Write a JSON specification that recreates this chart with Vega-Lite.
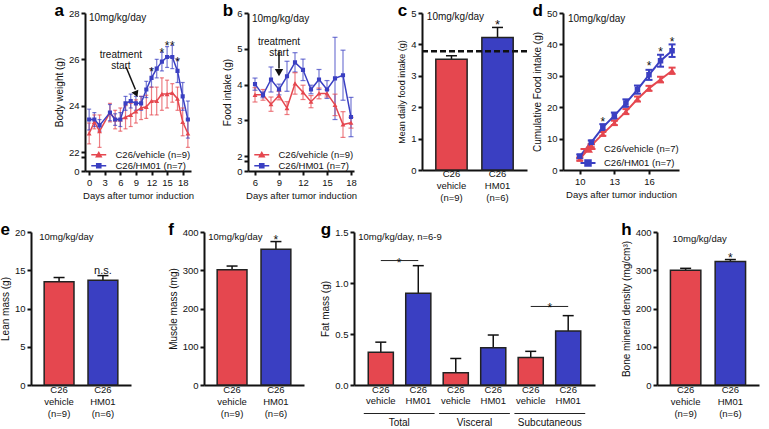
{
"$schema": "https://vega.github.io/schema/vega-lite/v6.json",
"padding": {"left": 0, "top": 2, "right": 4, "bottom": 0},
"config": {
  "font": "Liberation Sans",
  "view": {"stroke": null},
  "axis": {"domainColor": "#111", "domainWidth": 2, "tickColor": "#111", "tickWidth": 2, "tickSize": 4, "labelFontSize": 9.5, "labelColor": "#111", "titleColor": "#111", "titleFontSize": 10, "titleFontWeight": "normal", "grid": false, "labelPadding": 2, "titlePadding": 4, "labelOverlap": false, "labelFlush": false, "labelBound": false},
  "legend": {"title": null, "orient": "bottom-right", "offset": 0, "labelFontSize": 9.5, "labelColor": "#111", "rowPadding": 0, "padding": 0},
  "title": {"fontSize": 17, "fontWeight": "bold", "anchor": "start", "frame": "bounds", "offset": -12, "color": "#000"},
  "text": {"color": "#111"}
},
"datasets": {
  "bw": [
    {"day":0,"grp":"C26/vehicle (n=9)","mean":22.8,"lo":22.35,"hi":23.25},
    {"day":1,"grp":"C26/vehicle (n=9)","mean":23.3,"lo":23.0,"hi":23.6},
    {"day":2,"grp":"C26/vehicle (n=9)","mean":22.9,"lo":22.2,"hi":23.6},
    {"day":4,"grp":"C26/vehicle (n=9)","mean":23.7,"lo":23.3,"hi":24.1},
    {"day":5,"grp":"C26/vehicle (n=9)","mean":23.4,"lo":23.0,"hi":23.8},
    {"day":6,"grp":"C26/vehicle (n=9)","mean":23.4,"lo":22.9,"hi":23.9},
    {"day":7,"grp":"C26/vehicle (n=9)","mean":23.5,"lo":23.0,"hi":24.0},
    {"day":8,"grp":"C26/vehicle (n=9)","mean":23.6,"lo":23.1,"hi":24.1},
    {"day":9,"grp":"C26/vehicle (n=9)","mean":23.75,"lo":23.25,"hi":24.25},
    {"day":10,"grp":"C26/vehicle (n=9)","mean":23.9,"lo":23.4,"hi":24.4},
    {"day":11,"grp":"C26/vehicle (n=9)","mean":23.95,"lo":23.45,"hi":24.45},
    {"day":12,"grp":"C26/vehicle (n=9)","mean":24.2,"lo":23.6,"hi":24.8},
    {"day":13,"grp":"C26/vehicle (n=9)","mean":24.2,"lo":23.6,"hi":24.8},
    {"day":14,"grp":"C26/vehicle (n=9)","mean":24.5,"lo":23.8,"hi":25.2},
    {"day":15,"grp":"C26/vehicle (n=9)","mean":24.5,"lo":23.9,"hi":25.1},
    {"day":16,"grp":"C26/vehicle (n=9)","mean":24.55,"lo":24.15,"hi":24.95},
    {"day":17,"grp":"C26/vehicle (n=9)","mean":24.3,"lo":23.8,"hi":24.8},
    {"day":18,"grp":"C26/vehicle (n=9)","mean":23.3,"lo":22.7,"hi":23.9},
    {"day":19,"grp":"C26/vehicle (n=9)","mean":22.8,"lo":22.2,"hi":23.4},
    {"day":0,"grp":"C26/HM01 (n=7)","mean":23.4,"lo":22.95,"hi":23.85},
    {"day":1,"grp":"C26/HM01 (n=7)","mean":23.4,"lo":23.1,"hi":23.7},
    {"day":2,"grp":"C26/HM01 (n=7)","mean":23.15,"lo":22.9,"hi":23.4},
    {"day":4,"grp":"C26/HM01 (n=7)","mean":23.7,"lo":23.35,"hi":24.05},
    {"day":5,"grp":"C26/HM01 (n=7)","mean":23.4,"lo":23.15,"hi":23.65},
    {"day":6,"grp":"C26/HM01 (n=7)","mean":23.4,"lo":23.1,"hi":23.7},
    {"day":7,"grp":"C26/HM01 (n=7)","mean":24.1,"lo":23.8,"hi":24.4},
    {"day":8,"grp":"C26/HM01 (n=7)","mean":24.2,"lo":23.9,"hi":24.5},
    {"day":9,"grp":"C26/HM01 (n=7)","mean":24.1,"lo":23.8,"hi":24.4},
    {"day":10,"grp":"C26/HM01 (n=7)","mean":24.1,"lo":23.8,"hi":24.4},
    {"day":11,"grp":"C26/HM01 (n=7)","mean":24.7,"lo":24.35,"hi":25.05},
    {"day":12,"grp":"C26/HM01 (n=7)","mean":25.2,"lo":24.8,"hi":25.6},
    {"day":13,"grp":"C26/HM01 (n=7)","mean":25.6,"lo":25.2,"hi":26.0},
    {"day":14,"grp":"C26/HM01 (n=7)","mean":25.9,"lo":25.5,"hi":26.3},
    {"day":15,"grp":"C26/HM01 (n=7)","mean":26.1,"lo":25.65,"hi":26.55},
    {"day":16,"grp":"C26/HM01 (n=7)","mean":26.1,"lo":25.6,"hi":26.6},
    {"day":17,"grp":"C26/HM01 (n=7)","mean":25.5,"lo":25.0,"hi":26.0},
    {"day":18,"grp":"C26/HM01 (n=7)","mean":24.4,"lo":23.8,"hi":25.0},
    {"day":19,"grp":"C26/HM01 (n=7)","mean":23.4,"lo":22.6,"hi":24.2}
  ],
  "fi": [
    {"day":6,"grp":"C26/vehicle (n=9)","mean":3.71,"lo":3.51,"hi":3.91},
    {"day":7,"grp":"C26/vehicle (n=9)","mean":3.71,"lo":3.56,"hi":3.86},
    {"day":8,"grp":"C26/vehicle (n=9)","mean":3.45,"lo":3.25,"hi":3.65},
    {"day":9,"grp":"C26/vehicle (n=9)","mean":3.69,"lo":3.57,"hi":3.81},
    {"day":10,"grp":"C26/vehicle (n=9)","mean":3.34,"lo":3.16,"hi":3.52},
    {"day":11,"grp":"C26/vehicle (n=9)","mean":4.03,"lo":3.73,"hi":4.33},
    {"day":12,"grp":"C26/vehicle (n=9)","mean":3.78,"lo":3.58,"hi":3.98},
    {"day":13,"grp":"C26/vehicle (n=9)","mean":3.52,"lo":3.35,"hi":3.69},
    {"day":14,"grp":"C26/vehicle (n=9)","mean":3.75,"lo":3.6,"hi":3.9},
    {"day":15,"grp":"C26/vehicle (n=9)","mean":3.75,"lo":3.65,"hi":3.85},
    {"day":16,"grp":"C26/vehicle (n=9)","mean":3.43,"lo":3.13,"hi":3.73},
    {"day":17,"grp":"C26/vehicle (n=9)","mean":2.88,"lo":2.52,"hi":3.24},
    {"day":18,"grp":"C26/vehicle (n=9)","mean":2.93,"lo":2.78,"hi":3.08},
    {"day":6,"grp":"C26/HM01 (n=7)","mean":4.01,"lo":3.84,"hi":4.18},
    {"day":7,"grp":"C26/HM01 (n=7)","mean":3.71,"lo":3.63,"hi":3.79},
    {"day":8,"grp":"C26/HM01 (n=7)","mean":4.14,"lo":3.79,"hi":4.49},
    {"day":9,"grp":"C26/HM01 (n=7)","mean":3.86,"lo":3.71,"hi":4.01},
    {"day":10,"grp":"C26/HM01 (n=7)","mean":4.23,"lo":3.81,"hi":4.65},
    {"day":11,"grp":"C26/HM01 (n=7)","mean":4.62,"lo":4.35,"hi":4.89},
    {"day":12,"grp":"C26/HM01 (n=7)","mean":4.41,"lo":4.11,"hi":4.71},
    {"day":13,"grp":"C26/HM01 (n=7)","mean":3.86,"lo":3.74,"hi":3.98},
    {"day":14,"grp":"C26/HM01 (n=7)","mean":4.14,"lo":3.86,"hi":4.42},
    {"day":15,"grp":"C26/HM01 (n=7)","mean":3.86,"lo":3.61,"hi":4.11},
    {"day":16,"grp":"C26/HM01 (n=7)","mean":4.17,"lo":3.02,"hi":5.32},
    {"day":17,"grp":"C26/HM01 (n=7)","mean":4.26,"lo":3.56,"hi":4.96},
    {"day":18,"grp":"C26/HM01 (n=7)","mean":3.09,"lo":2.54,"hi":3.64}
  ],
  "cfi": [
    {"day":10,"grp":"C26/vehicle (n=7)","mean":3.5,"lo":3.0,"hi":4.0},
    {"day":11,"grp":"C26/vehicle (n=7)","mean":7.75,"lo":7.25,"hi":8.25},
    {"day":12,"grp":"C26/vehicle (n=7)","mean":11.5,"lo":10.9,"hi":12.1},
    {"day":13,"grp":"C26/vehicle (n=7)","mean":15.0,"lo":14.3,"hi":15.7},
    {"day":14,"grp":"C26/vehicle (n=7)","mean":18.6,"lo":17.8,"hi":19.4},
    {"day":15,"grp":"C26/vehicle (n=7)","mean":22.6,"lo":21.8,"hi":23.4},
    {"day":16,"grp":"C26/vehicle (n=7)","mean":26.0,"lo":25.2,"hi":26.8},
    {"day":17,"grp":"C26/vehicle (n=7)","mean":28.8,"lo":27.9,"hi":29.7},
    {"day":18,"grp":"C26/vehicle (n=7)","mean":31.6,"lo":30.6,"hi":32.6},
    {"day":10,"grp":"C26/HM01 (n=7)","mean":4.35,"lo":3.75,"hi":4.95},
    {"day":11,"grp":"C26/HM01 (n=7)","mean":8.8,"lo":8.2,"hi":9.4},
    {"day":12,"grp":"C26/HM01 (n=7)","mean":13.6,"lo":12.6,"hi":14.6},
    {"day":13,"grp":"C26/HM01 (n=7)","mean":17.3,"lo":16.3,"hi":18.3},
    {"day":14,"grp":"C26/HM01 (n=7)","mean":21.3,"lo":20.1,"hi":22.5},
    {"day":15,"grp":"C26/HM01 (n=7)","mean":25.6,"lo":24.3,"hi":26.9},
    {"day":16,"grp":"C26/HM01 (n=7)","mean":30.3,"lo":28.7,"hi":31.9},
    {"day":17,"grp":"C26/HM01 (n=7)","mean":34.8,"lo":32.9,"hi":36.7},
    {"day":18,"grp":"C26/HM01 (n=7)","mean":38.0,"lo":36.0,"hi":40.0}
  ],
  "c": [
    {"lab":"C26|vehicle|(n=9)","g":"vehicle","mean":3.53,"upper":3.64,"sig":""},
    {"lab":"C26|HM01|(n=6)","g":"HM01","mean":4.22,"upper":4.54,"sig":"*"}
  ],
  "e": [
    {"lab":"C26|vehicle|(n=9)","g":"vehicle","mean":13.5,"upper":14.05,"sig":""},
    {"lab":"C26|HM01|(n=6)","g":"HM01","mean":13.7,"upper":14.3,"sig":"n.s."}
  ],
  "f": [
    {"lab":"C26|vehicle|(n=9)","g":"vehicle","mean":301,"upper":311,"sig":""},
    {"lab":"C26|HM01|(n=6)","g":"HM01","mean":355,"upper":375,"sig":"*"}
  ],
  "h": [
    {"lab":"C26|vehicle|(n=9)","g":"vehicle","mean":300,"upper":305,"sig":""},
    {"lab":"C26|HM01|(n=6)","g":"HM01","mean":323,"upper":328,"sig":"*"}
  ],
  "gbar": [
    {"id":"C26|vehicle|1","g":"vehicle","mean":0.32,"upper":0.42},
    {"id":"C26|HM01|2","g":"HM01","mean":0.9,"upper":1.17},
    {"id":"C26|vehicle|3","g":"vehicle","mean":0.12,"upper":0.26},
    {"id":"C26|HM01|4","g":"HM01","mean":0.365,"upper":0.49},
    {"id":"C26|vehicle|5","g":"vehicle","mean":0.27,"upper":0.33},
    {"id":"C26|HM01|6","g":"HM01","mean":0.53,"upper":0.68}
  ],
  "gsig": [
    {"from":"C26|vehicle|1","to":"C26|HM01|2","y":1.22},
    {"from":"C26|vehicle|5","to":"C26|HM01|6","y":0.77}
  ],
  "ggrp": [
    {"grp":"Total","star":"*","sy":1.22},
    {"grp":"Visceral","star":"","sy":0},
    {"grp":"Subcutaneous","star":"*","sy":0.77}
  ]
},
"spacing": 19,
"resolve": {"scale": {"color": "independent", "shape": "independent"}},
"vconcat": [
 {"hconcat": [
  {"width": 23, "height": 10, "data": {"values": []}, "mark": "point"},
  {
   "width": 106, "height": 158,
   "title": {"text": "a"},
   "layer": [
    {"data": {"name": "bw"}, "mark": {"type": "rule", "strokeWidth": 1.2, "opacity": 0.7},
     "encoding": {
      "x": {"field": "day", "type": "quantitative", "scale": {"domain": [-0.8, 19.6], "nice": false, "zero": false}, "axis": {"values": [0,3,6,9,12,15,18], "title": "Days after tumor induction", "titleFontSize": 9.5, "labelOverlap": false}},
      "y": {"field": "lo", "type": "quantitative", "scale": {"domain": [0, 22, 28], "range": [158, 139, 0], "nice": false, "zero": false}, "axis": {"title": "Body weight (g)", "values": [0, 16.2, 22, 24, 26, 28], "labelExpr": "datum.value == 16.2 ? '' : datum.label", "labelOverlap": false}},
      "y2": {"field": "hi"},
      "color": {"field": "grp", "type": "nominal", "scale": {"domain": ["C26/vehicle (n=9)", "C26/HM01 (n=7)"], "range": ["#E5474F", "#3A3FC2"]}, "legend": {"symbolSize": 56, "labelOffset": 12, "symbolStrokeWidth": 1.5, "encode": {"symbols": {"update": {"stroke": {"signal": "indexof(datum.value,'vehicle') >= 0 ? '#E5474F' : '#3A3FC2'"}}}}}}}},
    {"data": {"name": "bw"}, "mark": {"type": "tick", "orient": "horizontal", "size": 4, "thickness": 1.2, "opacity": 0.7},
     "encoding": {
      "x": {"field": "day", "type": "quantitative", "axis": {"values": [0,3,6,9,12,15,18], "title": "Days after tumor induction", "titleFontSize": 9.5, "labelOverlap": false}},
      "y": {"field": "lo", "type": "quantitative", "axis": {"title": "Body weight (g)", "values": [0, 16.2, 22, 24, 26, 28], "labelExpr": "datum.value == 16.2 ? '' : datum.label", "labelOverlap": false}},
      "color": {"field": "grp", "type": "nominal", "legend": {"symbolSize": 56, "labelOffset": 12, "symbolStrokeWidth": 1.5, "encode": {"symbols": {"update": {"stroke": {"signal": "indexof(datum.value,'vehicle') >= 0 ? '#E5474F' : '#3A3FC2'"}}}}}}}},
    {"data": {"name": "bw"}, "mark": {"type": "tick", "orient": "horizontal", "size": 4, "thickness": 1.2, "opacity": 0.7},
     "encoding": {
      "x": {"field": "day", "type": "quantitative", "axis": {"values": [0,3,6,9,12,15,18], "title": "Days after tumor induction", "titleFontSize": 9.5, "labelOverlap": false}},
      "y": {"field": "hi", "type": "quantitative", "axis": {"title": "Body weight (g)", "values": [0, 16.2, 22, 24, 26, 28], "labelExpr": "datum.value == 16.2 ? '' : datum.label", "labelOverlap": false}},
      "color": {"field": "grp", "type": "nominal", "legend": {"symbolSize": 56, "labelOffset": 12, "symbolStrokeWidth": 1.5, "encode": {"symbols": {"update": {"stroke": {"signal": "indexof(datum.value,'vehicle') >= 0 ? '#E5474F' : '#3A3FC2'"}}}}}}}},
    {"data": {"name": "bw"}, "mark": {"type": "line", "strokeWidth": 1.5},
     "encoding": {
      "x": {"field": "day", "type": "quantitative", "axis": {"values": [0,3,6,9,12,15,18], "title": "Days after tumor induction", "titleFontSize": 9.5, "labelOverlap": false}},
      "y": {"field": "mean", "type": "quantitative", "axis": {"title": "Body weight (g)", "values": [0, 16.2, 22, 24, 26, 28], "labelExpr": "datum.value == 16.2 ? '' : datum.label", "labelOverlap": false}},
      "color": {"field": "grp", "type": "nominal", "legend": {"symbolSize": 56, "labelOffset": 12, "symbolStrokeWidth": 1.5, "encode": {"symbols": {"update": {"stroke": {"signal": "indexof(datum.value,'vehicle') >= 0 ? '#E5474F' : '#3A3FC2'"}}}}}}}},
    {"data": {"name": "bw"}, "mark": {"type": "point", "filled": true, "size": 56, "opacity": 1},
     "encoding": {
      "x": {"field": "day", "type": "quantitative", "axis": {"values": [0,3,6,9,12,15,18], "title": "Days after tumor induction", "titleFontSize": 9.5, "labelOverlap": false}},
      "y": {"field": "mean", "type": "quantitative", "axis": {"title": "Body weight (g)", "values": [0, 16.2, 22, 24, 26, 28], "labelExpr": "datum.value == 16.2 ? '' : datum.label", "labelOverlap": false}},
      "color": {"field": "grp", "type": "nominal", "legend": {"symbolSize": 56, "labelOffset": 12, "symbolStrokeWidth": 1.5, "encode": {"symbols": {"update": {"stroke": {"signal": "indexof(datum.value,'vehicle') >= 0 ? '#E5474F' : '#3A3FC2'"}}}}}},
      "shape": {"field": "grp", "type": "nominal", "scale": {"domain": ["C26/vehicle (n=9)", "C26/HM01 (n=7)"], "range": ["M-2,0H2M-0.65,0.55L0,-0.6L0.65,0.55Z", "M-2,0H2M-0.55,-0.55H0.55V0.55H-0.55Z"]}, "legend": {"symbolSize": 56, "labelOffset": 12, "symbolStrokeWidth": 1.5, "encode": {"symbols": {"update": {"stroke": {"signal": "indexof(datum.value,'vehicle') >= 0 ? '#E5474F' : '#3A3FC2'"}}}}}}}},
    {"data": {"values": [{"day":12,"y":25.6},{"day":14,"y":26.4},{"day":15,"y":26.72},{"day":16,"y":26.72},{"day":17,"y":26.0}]},
     "mark": {"type": "text", "text": "*", "fontSize": 12, "baseline": "middle", "dy": 3, "color": "#111"},
     "encoding": {
      "x": {"field": "day", "type": "quantitative", "axis": {"values": [0,3,6,9,12,15,18], "title": "Days after tumor induction", "titleFontSize": 9.5, "labelOverlap": false}},
      "y": {"field": "y", "type": "quantitative", "axis": {"title": "Body weight (g)", "values": [0, 16.2, 22, 24, 26, 28], "labelExpr": "datum.value == 16.2 ? '' : datum.label", "labelOverlap": false}}}},
    {"data": {"values": [{}]},
     "mark": {"type": "text", "text": "10mg/kg/day", "fontSize": 10, "align": "left", "baseline": "middle", "dx": 4, "dy": 5, "color": "#111"},
     "encoding": {
      "x": {"datum": -0.8, "type": "quantitative", "axis": {"values": [0,3,6,9,12,15,18], "title": "Days after tumor induction", "titleFontSize": 9.5, "labelOverlap": false}},
      "y": {"datum": 28, "type": "quantitative", "axis": {"title": "Body weight (g)", "values": [0, 16.2, 22, 24, 26, 28], "labelExpr": "datum.value == 16.2 ? '' : datum.label", "labelOverlap": false}}}},
    {"data": {"values": [{}]},
     "mark": {"type": "text", "text": ["treatment", "start"], "fontSize": 10, "align": "center", "baseline": "middle", "lineHeight": 11, "color": "#111"},
     "encoding": {
      "x": {"datum": 6.1, "type": "quantitative", "axis": {"values": [0,3,6,9,12,15,18], "title": "Days after tumor induction", "titleFontSize": 9.5, "labelOverlap": false}},
      "y": {"datum": 26.2, "type": "quantitative", "axis": {"title": "Body weight (g)", "values": [0, 16.2, 22, 24, 26, 28], "labelExpr": "datum.value == 16.2 ? '' : datum.label", "labelOverlap": false}}}},
    {"data": {"values": [{}]},
     "mark": {"type": "rule", "strokeWidth": 1.5, "color": "#111"},
     "encoding": {
      "x": {"datum": 7.1, "type": "quantitative", "axis": {"values": [0,3,6,9,12,15,18], "title": "Days after tumor induction", "titleFontSize": 9.5, "labelOverlap": false}},
      "y": {"datum": 25.67, "type": "quantitative", "axis": {"title": "Body weight (g)", "values": [0, 16.2, 22, 24, 26, 28], "labelExpr": "datum.value == 16.2 ? '' : datum.label", "labelOverlap": false}},
      "x2": {"datum": 8.9}, "y2": {"datum": 24.7}}},
    {"data": {"values": [{}]},
     "mark": {"type": "point", "shape": "triangle-down", "filled": true, "size": 55, "color": "#111", "opacity": 1, "angle": 337},
     "encoding": {
      "x": {"datum": 9.05, "type": "quantitative", "axis": {"values": [0,3,6,9,12,15,18], "title": "Days after tumor induction", "titleFontSize": 9.5, "labelOverlap": false}},
      "y": {"datum": 24.5, "type": "quantitative", "axis": {"title": "Body weight (g)", "values": [0, 16.2, 22, 24, 26, 28], "labelExpr": "datum.value == 16.2 ? '' : datum.label", "labelOverlap": false}}}}
   ]
  },
  {"width": 26, "height": 10, "data": {"values": []}, "mark": "point"},
  {
   "width": 106, "height": 158,
   "title": {"text": "b"},
   "layer": [
    {"data": {"name": "fi"}, "mark": {"type": "rule", "strokeWidth": 1.2, "opacity": 0.7},
     "encoding": {
      "x": {"field": "day", "type": "quantitative", "scale": {"domain": [5.125, 18.375], "nice": false, "zero": false}, "axis": {"values": [6,9,12,15,18], "title": "Days after tumor induction", "titleFontSize": 9.5, "labelOverlap": false}},
      "y": {"field": "lo", "type": "quantitative", "scale": {"domain": [0, 2, 6], "range": [158, 143, 0], "nice": false, "zero": false}, "axis": {"title": "Food intake (g)", "values": [0, 1.35, 2, 3, 4, 5, 6], "labelExpr": "datum.value == 1.35 ? '' : datum.label", "labelOverlap": false}},
      "y2": {"field": "hi"},
      "color": {"field": "grp", "type": "nominal", "scale": {"domain": ["C26/vehicle (n=9)", "C26/HM01 (n=7)"], "range": ["#E5474F", "#3A3FC2"]}, "legend": {"symbolSize": 56, "labelOffset": 12, "symbolStrokeWidth": 1.5, "encode": {"symbols": {"update": {"stroke": {"signal": "indexof(datum.value,'vehicle') >= 0 ? '#E5474F' : '#3A3FC2'"}}}}}}}},
    {"data": {"name": "fi"}, "mark": {"type": "tick", "orient": "horizontal", "size": 5, "thickness": 1.2, "opacity": 0.7},
     "encoding": {
      "x": {"field": "day", "type": "quantitative", "axis": {"values": [6,9,12,15,18], "title": "Days after tumor induction", "titleFontSize": 9.5, "labelOverlap": false}},
      "y": {"field": "lo", "type": "quantitative", "axis": {"title": "Food intake (g)", "values": [0, 1.35, 2, 3, 4, 5, 6], "labelExpr": "datum.value == 1.35 ? '' : datum.label", "labelOverlap": false}},
      "color": {"field": "grp", "type": "nominal", "legend": {"symbolSize": 56, "labelOffset": 12, "symbolStrokeWidth": 1.5, "encode": {"symbols": {"update": {"stroke": {"signal": "indexof(datum.value,'vehicle') >= 0 ? '#E5474F' : '#3A3FC2'"}}}}}}}},
    {"data": {"name": "fi"}, "mark": {"type": "tick", "orient": "horizontal", "size": 5, "thickness": 1.2, "opacity": 0.7},
     "encoding": {
      "x": {"field": "day", "type": "quantitative", "axis": {"values": [6,9,12,15,18], "title": "Days after tumor induction", "titleFontSize": 9.5, "labelOverlap": false}},
      "y": {"field": "hi", "type": "quantitative", "axis": {"title": "Food intake (g)", "values": [0, 1.35, 2, 3, 4, 5, 6], "labelExpr": "datum.value == 1.35 ? '' : datum.label", "labelOverlap": false}},
      "color": {"field": "grp", "type": "nominal", "legend": {"symbolSize": 56, "labelOffset": 12, "symbolStrokeWidth": 1.5, "encode": {"symbols": {"update": {"stroke": {"signal": "indexof(datum.value,'vehicle') >= 0 ? '#E5474F' : '#3A3FC2'"}}}}}}}},
    {"data": {"name": "fi"}, "mark": {"type": "line", "strokeWidth": 1.5},
     "encoding": {
      "x": {"field": "day", "type": "quantitative", "axis": {"values": [6,9,12,15,18], "title": "Days after tumor induction", "titleFontSize": 9.5, "labelOverlap": false}},
      "y": {"field": "mean", "type": "quantitative", "axis": {"title": "Food intake (g)", "values": [0, 1.35, 2, 3, 4, 5, 6], "labelExpr": "datum.value == 1.35 ? '' : datum.label", "labelOverlap": false}},
      "color": {"field": "grp", "type": "nominal", "legend": {"symbolSize": 56, "labelOffset": 12, "symbolStrokeWidth": 1.5, "encode": {"symbols": {"update": {"stroke": {"signal": "indexof(datum.value,'vehicle') >= 0 ? '#E5474F' : '#3A3FC2'"}}}}}}}},
    {"data": {"name": "fi"}, "mark": {"type": "point", "filled": true, "size": 56, "opacity": 1},
     "encoding": {
      "x": {"field": "day", "type": "quantitative", "axis": {"values": [6,9,12,15,18], "title": "Days after tumor induction", "titleFontSize": 9.5, "labelOverlap": false}},
      "y": {"field": "mean", "type": "quantitative", "axis": {"title": "Food intake (g)", "values": [0, 1.35, 2, 3, 4, 5, 6], "labelExpr": "datum.value == 1.35 ? '' : datum.label", "labelOverlap": false}},
      "color": {"field": "grp", "type": "nominal", "legend": {"symbolSize": 56, "labelOffset": 12, "symbolStrokeWidth": 1.5, "encode": {"symbols": {"update": {"stroke": {"signal": "indexof(datum.value,'vehicle') >= 0 ? '#E5474F' : '#3A3FC2'"}}}}}},
      "shape": {"field": "grp", "type": "nominal", "scale": {"domain": ["C26/vehicle (n=9)", "C26/HM01 (n=7)"], "range": ["M-2,0H2M-0.65,0.55L0,-0.6L0.65,0.55Z", "M-2,0H2M-0.55,-0.55H0.55V0.55H-0.55Z"]}, "legend": {"symbolSize": 56, "labelOffset": 12, "symbolStrokeWidth": 1.5, "encode": {"symbols": {"update": {"stroke": {"signal": "indexof(datum.value,'vehicle') >= 0 ? '#E5474F' : '#3A3FC2'"}}}}}}}},
    {"data": {"values": [{}]},
     "mark": {"type": "text", "text": "10mg/kg/day", "fontSize": 10, "align": "left", "baseline": "middle", "dx": 4, "dy": 6, "color": "#111"},
     "encoding": {
      "x": {"datum": 5.125, "type": "quantitative", "axis": {"values": [6,9,12,15,18], "title": "Days after tumor induction", "titleFontSize": 9.5, "labelOverlap": false}},
      "y": {"datum": 6, "type": "quantitative", "axis": {"title": "Food intake (g)", "values": [0, 1.35, 2, 3, 4, 5, 6], "labelExpr": "datum.value == 1.35 ? '' : datum.label", "labelOverlap": false}}}},
    {"data": {"values": [{}]},
     "mark": {"type": "text", "text": ["treatment", "start"], "fontSize": 10, "align": "center", "baseline": "middle", "lineHeight": 11, "color": "#111"},
     "encoding": {
      "x": {"datum": 9, "type": "quantitative", "axis": {"values": [6,9,12,15,18], "title": "Days after tumor induction", "titleFontSize": 9.5, "labelOverlap": false}},
      "y": {"datum": 5.2, "type": "quantitative", "axis": {"title": "Food intake (g)", "values": [0, 1.35, 2, 3, 4, 5, 6], "labelExpr": "datum.value == 1.35 ? '' : datum.label", "labelOverlap": false}}}},
    {"data": {"values": [{}]},
     "mark": {"type": "rule", "strokeWidth": 1.5, "color": "#111"},
     "encoding": {
      "x": {"datum": 9, "type": "quantitative", "axis": {"values": [6,9,12,15,18], "title": "Days after tumor induction", "titleFontSize": 9.5, "labelOverlap": false}},
      "y": {"datum": 4.93, "type": "quantitative", "axis": {"title": "Food intake (g)", "values": [0, 1.35, 2, 3, 4, 5, 6], "labelExpr": "datum.value == 1.35 ? '' : datum.label", "labelOverlap": false}},
      "y2": {"datum": 4.45}}},
    {"data": {"values": [{}]},
     "mark": {"type": "point", "shape": "triangle-down", "filled": true, "size": 70, "color": "#111", "opacity": 1},
     "encoding": {
      "x": {"datum": 9, "type": "quantitative", "axis": {"values": [6,9,12,15,18], "title": "Days after tumor induction", "titleFontSize": 9.5, "labelOverlap": false}},
      "y": {"datum": 4.33, "type": "quantitative", "axis": {"title": "Food intake (g)", "values": [0, 1.35, 2, 3, 4, 5, 6], "labelExpr": "datum.value == 1.35 ? '' : datum.label", "labelOverlap": false}}}}
   ]
  },
  {"width": 38, "height": 10, "data": {"values": []}, "mark": "point"},
  {
   "width": 105, "height": 157,
   "title": {"text": "c"},
   "data": {"name": "c"},
   "layer": [
    {"mark": {"type": "rule", "strokeWidth": 1.5, "color": "#111"},
     "encoding": {
      "x": {"field": "lab", "type": "nominal", "scale": {"domain": ["C26|vehicle|(n=9)", "C26|HM01|(n=6)"], "paddingInner": 0.32, "paddingOuter": 0.3}, "axis": {"title": null, "labelExpr": "split(datum.label,'|')", "labelAngle": 0, "ticks": false, "labelPadding": -2, "labelFontSize": 9.5, "labelLineHeight": 12, "labelBaseline": "top", "labelOverlap": false}},
      "y": {"field": "mean", "type": "quantitative", "scale": {"domain": [0, 5], "range": [157, 0], "nice": false, "zero": false}, "axis": {"values": [0,1,2,3,4,5], "labelExpr": "datum.value == 99 ? '' : datum.label", "title": "Mean daily food intake (g)", "titleFontSize": 9, "labelOverlap": false}},
      "y2": {"field": "upper"}}},
    {"mark": {"type": "tick", "size": 11, "thickness": 1.5, "color": "#111", "opacity": 1},
     "encoding": {"x": {"field": "lab", "type": "nominal"}, "y": {"field": "upper", "type": "quantitative", "axis": {"values": [0,1,2,3,4,5], "labelExpr": "datum.value == 99 ? '' : datum.label", "title": "Mean daily food intake (g)", "titleFontSize": 9, "labelOverlap": false}}}},
    {"mark": {"type": "bar", "stroke": "#222", "strokeWidth": 1.5},
     "encoding": {
      "x": {"field": "lab", "type": "nominal"},
      "y": {"field": "mean", "type": "quantitative", "axis": {"values": [0,1,2,3,4,5], "labelExpr": "datum.value == 99 ? '' : datum.label", "title": "Mean daily food intake (g)", "titleFontSize": 9, "labelOverlap": false}},
      "color": {"field": "g", "type": "nominal", "scale": {"domain": ["vehicle", "HM01"], "range": ["#E5474F", "#3A3FC2"]}, "legend": null}}},
    {"mark": {"type": "text", "fontSize": 13, "baseline": "alphabetic", "dy": 2, "color": "#111"},
     "encoding": {"x": {"field": "lab", "type": "nominal"}, "y": {"field": "upper", "type": "quantitative", "axis": {"values": [0,1,2,3,4,5], "labelExpr": "datum.value == 99 ? '' : datum.label", "title": "Mean daily food intake (g)", "titleFontSize": 9, "labelOverlap": false}}, "text": {"field": "sig"}}},
    {"data": {"values": [{}]},
     "mark": {"type": "rule", "strokeWidth": 2.5, "strokeDash": [6, 3], "color": "#111"},
     "encoding": {"y": {"datum": 3.78, "type": "quantitative", "axis": {"values": [0,1,2,3,4,5], "labelExpr": "datum.value == 99 ? '' : datum.label", "title": "Mean daily food intake (g)", "titleFontSize": 9, "labelOverlap": false}}}},
    {"data": {"values": [{}]},
     "mark": {"type": "text", "text": "10mg/kg/day", "fontSize": 10, "align": "left", "baseline": "middle", "dx": -9, "dy": 4, "color": "#111"},
     "encoding": {"x": {"datum": "C26|vehicle|(n=9)", "type": "nominal", "bandPosition": 0}, "y": {"datum": 5, "type": "quantitative", "axis": {"values": [0,1,2,3,4,5], "labelExpr": "datum.value == 99 ? '' : datum.label", "title": "Mean daily food intake (g)", "titleFontSize": 9, "labelOverlap": false}}}}
   ]
  },
  {"width": 3, "height": 10, "data": {"values": []}, "mark": "point"},
  {
   "width": 116, "height": 157,
   "title": {"text": "d"},
   "layer": [
    {"data": {"name": "cfi"}, "mark": {"type": "rule", "strokeWidth": 2},
     "encoding": {
      "x": {"field": "day", "type": "quantitative", "scale": {"domain": [8.55, 18.6], "nice": false, "zero": false}, "axis": {"values": [10,13,16], "title": "Days after tumor induction", "titleFontSize": 9.5, "labelOverlap": false}},
      "y": {"field": "lo", "type": "quantitative", "scale": {"domain": [0, 50], "range": [157, 0], "nice": false, "zero": false}, "axis": {"title": "Cumulative Food intake (g)", "values": [0,10,20,30,40,50], "labelExpr": "datum.value == 99 ? '' : datum.label", "labelOverlap": false}},
      "y2": {"field": "hi"},
      "color": {"field": "grp", "type": "nominal", "scale": {"domain": ["C26/vehicle (n=7)", "C26/HM01 (n=7)"], "range": ["#E5474F", "#3A3FC2"]}, "legend": {"symbolSize": 100, "labelOffset": 10, "symbolStrokeWidth": 2, "encode": {"symbols": {"update": {"stroke": {"signal": "indexof(datum.value,'vehicle') >= 0 ? '#E5474F' : '#3A3FC2'"}}}}}}}},
    {"data": {"name": "cfi"}, "mark": {"type": "tick", "orient": "horizontal", "size": 7, "thickness": 2, "opacity": 1},
     "encoding": {
      "x": {"field": "day", "type": "quantitative", "axis": {"values": [10,13,16], "title": "Days after tumor induction", "titleFontSize": 9.5, "labelOverlap": false}},
      "y": {"field": "lo", "type": "quantitative", "axis": {"title": "Cumulative Food intake (g)", "values": [0,10,20,30,40,50], "labelExpr": "datum.value == 99 ? '' : datum.label", "labelOverlap": false}},
      "color": {"field": "grp", "type": "nominal", "legend": {"symbolSize": 100, "labelOffset": 10, "symbolStrokeWidth": 2, "encode": {"symbols": {"update": {"stroke": {"signal": "indexof(datum.value,'vehicle') >= 0 ? '#E5474F' : '#3A3FC2'"}}}}}}}},
    {"data": {"name": "cfi"}, "mark": {"type": "tick", "orient": "horizontal", "size": 7, "thickness": 2, "opacity": 1},
     "encoding": {
      "x": {"field": "day", "type": "quantitative", "axis": {"values": [10,13,16], "title": "Days after tumor induction", "titleFontSize": 9.5, "labelOverlap": false}},
      "y": {"field": "hi", "type": "quantitative", "axis": {"title": "Cumulative Food intake (g)", "values": [0,10,20,30,40,50], "labelExpr": "datum.value == 99 ? '' : datum.label", "labelOverlap": false}},
      "color": {"field": "grp", "type": "nominal", "legend": {"symbolSize": 100, "labelOffset": 10, "symbolStrokeWidth": 2, "encode": {"symbols": {"update": {"stroke": {"signal": "indexof(datum.value,'vehicle') >= 0 ? '#E5474F' : '#3A3FC2'"}}}}}}}},
    {"data": {"name": "cfi"}, "mark": {"type": "line", "strokeWidth": 2},
     "encoding": {
      "x": {"field": "day", "type": "quantitative", "axis": {"values": [10,13,16], "title": "Days after tumor induction", "titleFontSize": 9.5, "labelOverlap": false}},
      "y": {"field": "mean", "type": "quantitative", "axis": {"title": "Cumulative Food intake (g)", "values": [0,10,20,30,40,50], "labelExpr": "datum.value == 99 ? '' : datum.label", "labelOverlap": false}},
      "color": {"field": "grp", "type": "nominal", "legend": {"symbolSize": 100, "labelOffset": 10, "symbolStrokeWidth": 2, "encode": {"symbols": {"update": {"stroke": {"signal": "indexof(datum.value,'vehicle') >= 0 ? '#E5474F' : '#3A3FC2'"}}}}}}}},
    {"data": {"name": "cfi"}, "mark": {"type": "point", "filled": true, "size": 100, "opacity": 1},
     "encoding": {
      "x": {"field": "day", "type": "quantitative", "axis": {"values": [10,13,16], "title": "Days after tumor induction", "titleFontSize": 9.5, "labelOverlap": false}},
      "y": {"field": "mean", "type": "quantitative", "axis": {"title": "Cumulative Food intake (g)", "values": [0,10,20,30,40,50], "labelExpr": "datum.value == 99 ? '' : datum.label", "labelOverlap": false}},
      "color": {"field": "grp", "type": "nominal", "legend": {"symbolSize": 100, "labelOffset": 10, "symbolStrokeWidth": 2, "encode": {"symbols": {"update": {"stroke": {"signal": "indexof(datum.value,'vehicle') >= 0 ? '#E5474F' : '#3A3FC2'"}}}}}},
      "shape": {"field": "grp", "type": "nominal", "scale": {"domain": ["C26/vehicle (n=7)", "C26/HM01 (n=7)"], "range": ["M-1.5,0H1.5M-0.65,0.55L0,-0.6L0.65,0.55Z", "M-1.5,0H1.5M-0.55,-0.55H0.55V0.55H-0.55Z"]}, "legend": {"symbolSize": 100, "labelOffset": 10, "symbolStrokeWidth": 2, "encode": {"symbols": {"update": {"stroke": {"signal": "indexof(datum.value,'vehicle') >= 0 ? '#E5474F' : '#3A3FC2'"}}}}}}}},
    {"data": {"values": [{"day":12,"y":16.3},{"day":16,"y":34.1},{"day":17,"y":38.5},{"day":18,"y":41.7}]},
     "mark": {"type": "text", "text": "*", "fontSize": 12, "baseline": "middle", "dy": 3, "color": "#111"},
     "encoding": {
      "x": {"field": "day", "type": "quantitative", "axis": {"values": [10,13,16], "title": "Days after tumor induction", "titleFontSize": 9.5, "labelOverlap": false}},
      "y": {"field": "y", "type": "quantitative", "axis": {"title": "Cumulative Food intake (g)", "values": [0,10,20,30,40,50], "labelExpr": "datum.value == 99 ? '' : datum.label", "labelOverlap": false}}}},
    {"data": {"values": [{}]},
     "mark": {"type": "text", "text": "10mg/kg/day", "fontSize": 10, "align": "left", "baseline": "middle", "dx": 5, "dy": 6, "color": "#111"},
     "encoding": {
      "x": {"datum": 8.55, "type": "quantitative", "axis": {"values": [10,13,16], "title": "Days after tumor induction", "titleFontSize": 9.5, "labelOverlap": false}},
      "y": {"datum": 50, "type": "quantitative", "axis": {"title": "Cumulative Food intake (g)", "values": [0,10,20,30,40,50], "labelExpr": "datum.value == 99 ? '' : datum.label", "labelOverlap": false}}}}
   ]
  }
 ], "spacing": 0, "resolve": {"scale": {"color": "independent", "shape": "independent"}}},
 {"hconcat": [
  {
   "width": 100, "height": 153,
   "title": {"text": "e"},
   "data": {"name": "e"},
   "layer": [
    {"mark": {"type": "rule", "strokeWidth": 1.5, "color": "#111"},
     "encoding": {
      "x": {"field": "lab", "type": "nominal", "scale": {"domain": ["C26|vehicle|(n=9)", "C26|HM01|(n=6)"], "paddingInner": 0.32, "paddingOuter": 0.3}, "axis": {"title": null, "labelExpr": "split(datum.label,'|')", "labelAngle": 0, "ticks": false, "labelPadding": -1, "labelFontSize": 9.5, "labelLineHeight": 12, "labelBaseline": "top", "labelOverlap": false}},
      "y": {"field": "mean", "type": "quantitative", "scale": {"domain": [0, 20], "range": [153, 0], "nice": false, "zero": false}, "axis": {"values": [0,5,10,15,20], "labelExpr": "datum.value == 99 ? '' : datum.label", "title": "Lean mass (g)", "labelOverlap": false}},
      "y2": {"field": "upper"}}},
    {"mark": {"type": "tick", "size": 11, "thickness": 1.5, "color": "#111", "opacity": 1},
     "encoding": {"x": {"field": "lab", "type": "nominal"}, "y": {"field": "upper", "type": "quantitative", "axis": {"values": [0,5,10,15,20], "labelExpr": "datum.value == 99 ? '' : datum.label", "title": "Lean mass (g)", "labelOverlap": false}}}},
    {"mark": {"type": "bar", "stroke": "#222", "strokeWidth": 1.5},
     "encoding": {
      "x": {"field": "lab", "type": "nominal"},
      "y": {"field": "mean", "type": "quantitative", "axis": {"values": [0,5,10,15,20], "labelExpr": "datum.value == 99 ? '' : datum.label", "title": "Lean mass (g)", "labelOverlap": false}},
      "color": {"field": "g", "type": "nominal", "scale": {"domain": ["vehicle", "HM01"], "range": ["#E5474F", "#3A3FC2"]}, "legend": null}}},
    {"mark": {"type": "text", "fontSize": 11, "baseline": "alphabetic", "dy": -2, "color": "#111"},
     "encoding": {"x": {"field": "lab", "type": "nominal"}, "y": {"field": "upper", "type": "quantitative", "axis": {"values": [0,5,10,15,20], "labelExpr": "datum.value == 99 ? '' : datum.label", "title": "Lean mass (g)", "labelOverlap": false}}, "text": {"field": "sig"}}},
    {"data": {"values": [{}]},
     "mark": {"type": "text", "text": "10mg/kg/day", "fontSize": 9.5, "align": "left", "baseline": "middle", "dx": -5, "dy": 5, "color": "#111"},
     "encoding": {"x": {"datum": "C26|vehicle|(n=9)", "type": "nominal", "bandPosition": 0}, "y": {"datum": 20, "type": "quantitative", "axis": {"values": [0,5,10,15,20], "labelExpr": "datum.value == 99 ? '' : datum.label", "title": "Lean mass (g)", "labelOverlap": false}}}}
   ]
  },
  {"width": 37, "height": 10, "data": {"values": []}, "mark": "point"},
  {
   "width": 100, "height": 153,
   "title": {"text": "f"},
   "data": {"name": "f"},
   "layer": [
    {"mark": {"type": "rule", "strokeWidth": 1.5, "color": "#111"},
     "encoding": {
      "x": {"field": "lab", "type": "nominal", "scale": {"domain": ["C26|vehicle|(n=9)", "C26|HM01|(n=6)"], "paddingInner": 0.32, "paddingOuter": 0.3}, "axis": {"title": null, "labelExpr": "split(datum.label,'|')", "labelAngle": 0, "ticks": false, "labelPadding": -1, "labelFontSize": 9.5, "labelLineHeight": 12, "labelBaseline": "top", "labelOverlap": false}},
      "y": {"field": "mean", "type": "quantitative", "scale": {"domain": [0, 400], "range": [153, 0], "nice": false, "zero": false}, "axis": {"values": [0,100,200,300,400], "labelExpr": "datum.value == 999 ? '' : datum.label", "title": "Muscle mass (mg)", "labelOverlap": false}},
      "y2": {"field": "upper"}}},
    {"mark": {"type": "tick", "size": 11, "thickness": 1.5, "color": "#111", "opacity": 1},
     "encoding": {"x": {"field": "lab", "type": "nominal"}, "y": {"field": "upper", "type": "quantitative", "axis": {"values": [0,100,200,300,400], "labelExpr": "datum.value == 999 ? '' : datum.label", "title": "Muscle mass (mg)", "labelOverlap": false}}}},
    {"mark": {"type": "bar", "stroke": "#222", "strokeWidth": 1.5},
     "encoding": {
      "x": {"field": "lab", "type": "nominal"},
      "y": {"field": "mean", "type": "quantitative", "axis": {"values": [0,100,200,300,400], "labelExpr": "datum.value == 999 ? '' : datum.label", "title": "Muscle mass (mg)", "labelOverlap": false}},
      "color": {"field": "g", "type": "nominal", "scale": {"domain": ["vehicle", "HM01"], "range": ["#E5474F", "#3A3FC2"]}, "legend": null}}},
    {"mark": {"type": "text", "fontSize": 12, "baseline": "alphabetic", "dy": 2, "color": "#111"},
     "encoding": {"x": {"field": "lab", "type": "nominal"}, "y": {"field": "upper", "type": "quantitative", "axis": {"values": [0,100,200,300,400], "labelExpr": "datum.value == 999 ? '' : datum.label", "title": "Muscle mass (mg)", "labelOverlap": false}}, "text": {"field": "sig"}}},
    {"data": {"values": [{}]},
     "mark": {"type": "text", "text": "10mg/kg/day", "fontSize": 9.5, "align": "left", "baseline": "middle", "dx": -9, "dy": 5, "color": "#111"},
     "encoding": {"x": {"datum": "C26|vehicle|(n=9)", "type": "nominal", "bandPosition": 0}, "y": {"datum": 400, "type": "quantitative", "axis": {"values": [0,100,200,300,400], "labelExpr": "datum.value == 999 ? '' : datum.label", "title": "Muscle mass (mg)", "labelOverlap": false}}}}
   ]
  },
  {"width": 16, "height": 10, "data": {"values": []}, "mark": "point"},
  {
   "width": 241, "height": 153,
   "title": {"text": "g"},
   "resolve": {"scale": {"x": "independent"}},
   "layer": [
    {"layer": [
     {"data": {"name": "gbar"},
      "mark": {"type": "rule", "strokeWidth": 1.5, "color": "#111"},
      "encoding": {
       "x": {"field": "id", "type": "nominal", "scale": {"domain": ["C26|vehicle|1","C26|HM01|2","C26|vehicle|3","C26|HM01|4","C26|vehicle|5","C26|HM01|6"], "paddingInner": 0.33, "paddingOuter": 0.38}, "axis": {"title": null, "labelExpr": "slice(split(datum.label,'|'),0,2)", "labelAngle": 0, "ticks": false, "labelPadding": -1, "labelFontSize": 9.5, "labelLineHeight": 11.5, "labelBaseline": "top", "labelOverlap": false}},
       "y": {"field": "mean", "type": "quantitative", "scale": {"domain": [0, 1.5], "nice": false}, "axis": {"values": [0,0.5,1,1.5], "format": ".1f", "title": "Fat mass (g)", "labelOverlap": false}},
       "y2": {"field": "upper"}}},
     {"data": {"name": "gbar"},
      "mark": {"type": "tick", "size": 11, "thickness": 1.5, "color": "#111", "opacity": 1},
      "encoding": {"x": {"field": "id", "type": "nominal"}, "y": {"field": "upper", "type": "quantitative", "axis": {"values": [0,0.5,1,1.5], "format": ".1f", "title": "Fat mass (g)", "labelOverlap": false}}}},
     {"data": {"name": "gbar"},
      "mark": {"type": "bar", "stroke": "#222", "strokeWidth": 1.5},
      "encoding": {
       "x": {"field": "id", "type": "nominal"},
       "y": {"field": "mean", "type": "quantitative", "axis": {"values": [0,0.5,1,1.5], "format": ".1f", "title": "Fat mass (g)", "labelOverlap": false}},
       "color": {"field": "g", "type": "nominal", "scale": {"domain": ["vehicle", "HM01"], "range": ["#E5474F", "#3A3FC2"]}, "legend": null}}},
     {"data": {"name": "gsig"},
      "mark": {"type": "rule", "strokeWidth": 1, "color": "#222"},
      "encoding": {"x": {"field": "from", "type": "nominal"}, "x2": {"field": "to"}, "y": {"field": "y", "type": "quantitative", "axis": {"values": [0,0.5,1,1.5], "format": ".1f", "title": "Fat mass (g)", "labelOverlap": false}}}},
     {"data": {"values": [{}]},
      "mark": {"type": "text", "text": "10mg/kg/day, n=6-9", "fontSize": 9.5, "align": "left", "baseline": "middle", "dx": -10, "dy": 5, "color": "#111"},
      "encoding": {"x": {"datum": "C26|vehicle|1", "type": "nominal", "bandPosition": 0}, "y": {"datum": 1.5, "type": "quantitative", "axis": {"values": [0,0.5,1,1.5], "format": ".1f", "title": "Fat mass (g)", "labelOverlap": false}}}}
    ]},
    {"data": {"name": "ggrp"},
     "layer": [
      {"mark": {"type": "text", "fontSize": 10, "baseline": "middle", "color": "#111"},
       "encoding": {
        "x": {"field": "grp", "type": "nominal", "scale": {"domain": ["Total", "Visceral", "Subcutaneous"], "paddingInner": 0.06, "paddingOuter": 0.13}, "axis": null},
        "y": {"datum": -0.37, "type": "quantitative", "scale": {"domain": [0, 1.5], "nice": false}, "axis": {"values": [0,0.5,1,1.5], "format": ".1f", "title": "Fat mass (g)", "labelOverlap": false}},
        "text": {"field": "grp"}}},
      {"mark": {"type": "bar", "color": "#222"},
       "encoding": {
        "x": {"field": "grp", "type": "nominal"},
        "y": {"datum": -0.275, "type": "quantitative", "scale": {"domain": [0, 1.5], "nice": false}, "axis": {"values": [0,0.5,1,1.5], "format": ".1f", "title": "Fat mass (g)", "labelOverlap": false}},
        "y2": {"datum": -0.285}}},
      {"mark": {"type": "text", "fontSize": 12, "baseline": "alphabetic", "dy": 6, "color": "#111"},
       "encoding": {
        "x": {"field": "grp", "type": "nominal"},
        "y": {"field": "sy", "type": "quantitative", "scale": {"domain": [0, 1.5], "nice": false}, "axis": {"values": [0,0.5,1,1.5], "format": ".1f", "title": "Fat mass (g)", "labelOverlap": false}},
        "text": {"field": "star"}}}
     ]}
   ]
  },
  {"width": 26, "height": 10, "data": {"values": []}, "mark": "point"},
  {
   "width": 102, "height": 153,
   "title": {"text": "h"},
   "data": {"name": "h"},
   "layer": [
    {"mark": {"type": "rule", "strokeWidth": 1.5, "color": "#111"},
     "encoding": {
      "x": {"field": "lab", "type": "nominal", "scale": {"domain": ["C26|vehicle|(n=9)", "C26|HM01|(n=6)"], "paddingInner": 0.32, "paddingOuter": 0.3}, "axis": {"title": null, "labelExpr": "split(datum.label,'|')", "labelAngle": 0, "ticks": false, "labelPadding": -1, "labelFontSize": 9.5, "labelLineHeight": 12, "labelBaseline": "top", "labelOverlap": false}},
      "y": {"field": "mean", "type": "quantitative", "scale": {"domain": [0, 400], "range": [153, 0], "nice": false, "zero": false}, "axis": {"values": [0,100,200,300,400], "labelExpr": "datum.value == 999 ? '' : datum.label", "title": "Bone mineral density (mg/cm³)", "labelOverlap": false}},
      "y2": {"field": "upper"}}},
    {"mark": {"type": "tick", "size": 11, "thickness": 1.5, "color": "#111", "opacity": 1},
     "encoding": {"x": {"field": "lab", "type": "nominal"}, "y": {"field": "upper", "type": "quantitative", "axis": {"values": [0,100,200,300,400], "labelExpr": "datum.value == 999 ? '' : datum.label", "title": "Bone mineral density (mg/cm³)", "labelOverlap": false}}}},
    {"mark": {"type": "bar", "stroke": "#222", "strokeWidth": 1.5},
     "encoding": {
      "x": {"field": "lab", "type": "nominal"},
      "y": {"field": "mean", "type": "quantitative", "axis": {"values": [0,100,200,300,400], "labelExpr": "datum.value == 999 ? '' : datum.label", "title": "Bone mineral density (mg/cm³)", "labelOverlap": false}},
      "color": {"field": "g", "type": "nominal", "scale": {"domain": ["vehicle", "HM01"], "range": ["#E5474F", "#3A3FC2"]}, "legend": null}}},
    {"mark": {"type": "text", "fontSize": 12, "baseline": "alphabetic", "dy": 2, "color": "#111"},
     "encoding": {"x": {"field": "lab", "type": "nominal"}, "y": {"field": "upper", "type": "quantitative", "axis": {"values": [0,100,200,300,400], "labelExpr": "datum.value == 999 ? '' : datum.label", "title": "Bone mineral density (mg/cm³)", "labelOverlap": false}}, "text": {"field": "sig"}}},
    {"data": {"values": [{}]},
     "mark": {"type": "text", "text": "10mg/kg/day", "fontSize": 9.5, "align": "left", "baseline": "middle", "dx": 2, "dy": 7, "color": "#111"},
     "encoding": {"x": {"datum": "C26|vehicle|(n=9)", "type": "nominal", "bandPosition": 0}, "y": {"datum": 400, "type": "quantitative", "axis": {"values": [0,100,200,300,400], "labelExpr": "datum.value == 999 ? '' : datum.label", "title": "Bone mineral density (mg/cm³)", "labelOverlap": false}}}}
   ]
  }
 ], "spacing": 0, "resolve": {"scale": {"color": "independent", "shape": "independent"}}}
]
}
